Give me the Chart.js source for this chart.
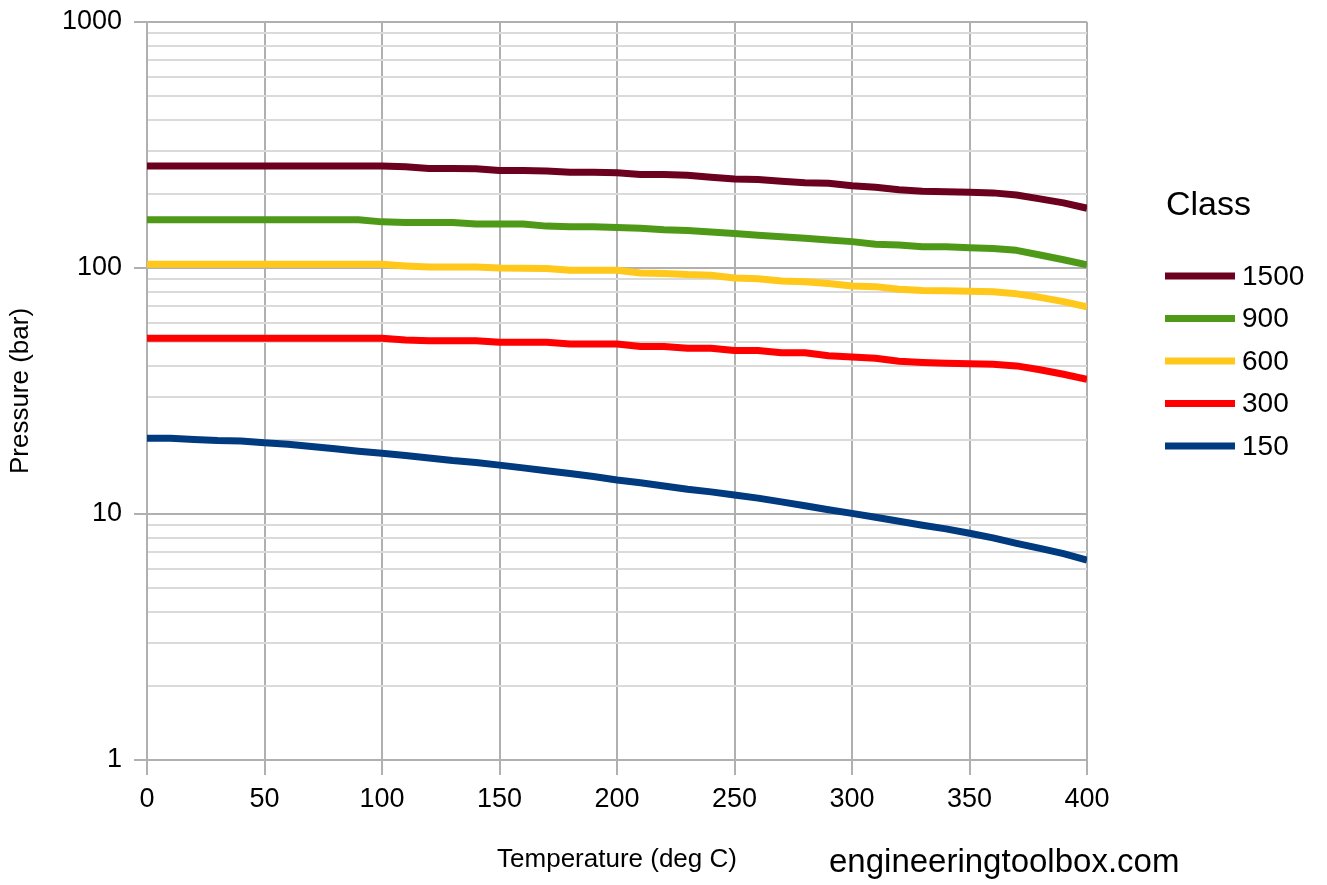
<!DOCTYPE html>
<html>
<head>
<meta charset="utf-8">
<script src="https://cdn.jsdelivr.net/npm/chart.js@4.4.0/dist/chart.umd.min.js"></script>
<style>
  html, body { margin: 0; padding: 0; background: #fff; }
</style>
</head>
<body>
<canvas id="graficoPresion" width="1327" height="885"></canvas>
<script>
// Presion admisible (bar) segun temperatura (deg C) para cada clase de brida
const temperaturas = [0,10,20,30,40,50,60,70,80,90,100,110,120,130,140,150,160,170,180,190,200,
                      210,220,230,240,250,260,270,280,290,300,310,320,330,340,350,360,370,380,390,400];

const clase1500 = [260,260,260,260,260,260,260,260,260,260,260,258,254,254,253,249,249,248,245,245,244,
                   240,240,238,234,230,229,225,222,221,216,213,208,205,204,203,202,198,191,184,175];
const clase900  = [157,157,157,157,157,157,157,157,157,157,154,153,153,153,151,151,151,148,147,147,146,
                   145,143,142,140,138,136,134,132,130,128,125,124,122,122,121,120,118,113,108,103];
const clase600  = [103.5,103.5,103.5,103.5,103.5,103.5,103.5,103.5,103.5,103.5,103.5,102,101,101,101,100,99.7,99.5,98,98,98,
                   95.5,95,94,93.5,91,90.5,88.5,88,86.5,84.5,84,82,81,80.9,80.5,80,78.5,76,73,69.6];
const clase300  = [51.8,51.8,51.8,51.8,51.8,51.8,51.8,51.8,51.8,51.8,51.8,51,50.6,50.6,50.6,49.9,49.9,49.9,49.1,49.1,49.1,
                   48,48,47.2,47.2,46.2,46.2,45.2,45.2,44,43.5,43,41.8,41.3,41,40.8,40.6,40,38.6,37,35.3];
const clase150  = [20.3,20.3,20.1,19.9,19.8,19.5,19.2,18.8,18.4,18.0,17.65,17.3,16.9,16.5,16.2,15.8,15.4,15.0,14.6,14.2,13.75,
                   13.4,13.0,12.6,12.3,11.94,11.6,11.2,10.8,10.4,10.06,9.7,9.35,9.0,8.7,8.35,8.0,7.6,7.25,6.9,6.5];

const clases  = ['1500', '900', '600', '300', '150'];
const series  = [clase1500, clase900, clase600, clase300, clase150];
const colores = ['#6b001f', '#4e9a18', '#ffc81a', '#ff0000', '#003a7f'];

const ticksPresion = [1, 10, 100, 1000];
const ticksTemperatura = [0, 50, 100, 150, 200, 250, 300, 350, 400];

const fuente = '"Liberation Sans", Arial, sans-serif';

// leyenda "Class" dibujada a la derecha, como en el original
const leyendaClase = {
    id: 'leyendaClase',
    afterDraw(chart) {
        const ctx = chart.ctx;
        ctx.save();
        ctx.fillStyle = '#000';
        ctx.textBaseline = 'middle';
        ctx.textAlign = 'left';
        ctx.font = '34px ' + fuente;
        ctx.fillText('Class', 1166, 206);
        ctx.font = '28px ' + fuente;
        chart.data.datasets.forEach((ds, i) => {
            const y = 276 + i * 42.5;
            ctx.strokeStyle = ds.borderColor;
            ctx.lineWidth = 7;
            ctx.beginPath();
            ctx.moveTo(1165, y);
            ctx.lineTo(1235, y);
            ctx.stroke();
            ctx.fillText(ds.label, 1242, y + 1);
        });
        ctx.font = '33px ' + fuente;
        ctx.fillText('engineeringtoolbox.com', 829, 863);
        ctx.restore();
    }
};

let presion = document.getElementById("graficoPresion").getContext('2d');
let graficoPresion = new Chart(presion, {
    type: 'line',
    data: {
        datasets: clases.map((c, i) => ({
            label: c,
            data: temperaturas.map((t, j) => ({x: t, y: series[i][j]})),
            borderColor: colores[i],
            backgroundColor: colores[i],
            borderWidth: 7,
            pointRadius: 0,
            tension: 0,
            borderJoinStyle: 'round'
        }))
    },
    options: {
        responsive: false,
        animation: false,
        devicePixelRatio: 1,
        layout: { padding: { top: 22, right: 240, left: 0, bottom: 0 } },
        plugins: {
            legend: { display: false },
            tooltip: { enabled: false }
        },
        scales: {
            x: {
                type: 'linear',
                min: 0,
                max: 400,
                afterBuildTicks: s => { s.ticks = ticksTemperatura.map(v => ({value: v})); },
                afterFit: s => { s.height = 125; s.paddingLeft = 0; s.paddingRight = 0; },
                grid: { color: '#b0b0b0', lineWidth: 2, tickLength: 15, tickColor: '#b0b0b0' },
                border: { color: '#b0b0b0', width: 2 },
                ticks: { color: '#000', font: { family: fuente, size: 27 }, padding: 8, maxRotation: 0 },
                title: {
                    display: true,
                    text: 'Temperature (deg C)',
                    color: '#000',
                    font: { family: fuente, size: 26 },
                    padding: { top: 0, bottom: 10 }
                }
            },
            y: {
                type: 'logarithmic',
                min: 1,
                max: 1000,
                afterBuildTicks: s => {
                    const t = [];
                    ticksPresion.forEach(p => {
                        t.push({value: p, major: true});
                        if (p < 1000) {
                            for (let k = 2; k <= 9; k++) t.push({value: p * k});
                        }
                    });
                    s.ticks = t;
                },
                afterFit: s => { s.width = 147; s.paddingTop = 0; s.paddingBottom = 0; },
                grid: {
                    color: ctx => ticksPresion.includes(ctx.tick.value) ? '#b0b0b0' : '#dadada',
                    lineWidth: 2,
                    tickLength: 13,
                    tickColor: ctx => ticksPresion.includes(ctx.tick.value) ? '#b0b0b0' : 'rgba(0,0,0,0)'
                },
                border: { color: '#b0b0b0', width: 2 },
                ticks: {
                    autoSkip: false,
                    color: '#000',
                    font: { family: fuente, size: 27 },
                    padding: 12,
                    callback: v => ticksPresion.includes(v) ? String(v) : ''
                },
                title: {
                    display: true,
                    text: 'Pressure (bar)',
                    color: '#000',
                    font: { family: fuente, size: 26 },
                    padding: { top: 5, bottom: 0 }
                }
            }
        }
    },
    plugins: [leyendaClase]
});
</script>
</body>
</html>
